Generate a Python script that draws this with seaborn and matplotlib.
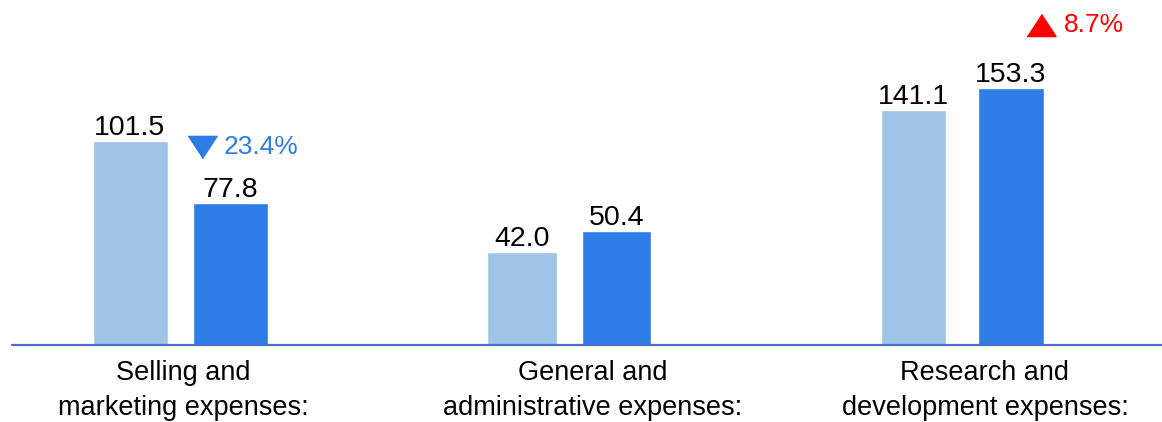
import numpy as np
import pandas as pd
import seaborn as sns
import matplotlib.pyplot as plt
import matplotlib.transforms as mtransforms

# data (RMB, per expense line: prior period vs current period)
categories = ['Selling and\nmarketing expenses:',
              'General and\nadministrative expenses:',
              'Research and\ndevelopment expenses:']
prior_vals = [101.5, 42.0, 141.1]
current_vals = [77.8, 50.4, 153.3]
change_labels = ['23.4%', None, '8.7%']
change_up = [False, None, True]
periods = ['Prior period', 'Current period']

light = '#A0C4E6'
dark = '#2E7DE6'
line_col = '#4472C4'

sns.set_style('white')
plt.rcParams['font.family'] = ['Liberation Sans', 'DejaVu Sans']

W, H = 1162, 422
fig = plt.figure(figsize=(W / 100, H / 100), dpi=100)

base_px = 345
# per group panel: left px, right px, bar width, ylim
panels = [
    (80, 280, 0.75, (22.8, 156.2)),
    (474.75, 663.75, 0.735, (4.7, 142.7)),
    (864.75, 1059.75, 0.67, (10.8, 202.1)),
]
label_x = [183, 593, 985]

for i, cat in enumerate(categories):
    left, right, bw, ylim = panels[i]
    ax = fig.add_axes([left / W, (H - base_px) / H, (right - left) / W, base_px / H])
    df = pd.DataFrame({'period': periods, 'value': [prior_vals[i], current_vals[i]]})
    sns.barplot(data=df, x='period', y='value', hue='period', palette=[light, dark],
                width=bw, ax=ax, legend=False, saturation=1)
    ax.set_ylim(*ylim)
    ax.set_xlim(-0.5, 1.5)
    ax.axis('off')
    for c in ax.containers:
        ax.bar_label(c, fmt='%.1f', padding=0, fontsize=20.5, color='black')

    # change marker next to current bar
    if change_labels[i] is not None:
        if change_up[i]:
            col = '#FF0000'
            mdx, mdy = 29.5, 63.5
            tdx, tdy = 53, 63.5
            verts = [(-1, -0.76), (1, -0.76), (0, 0.76)]
        else:
            col = dark
            mdx, mdy = -28.5, 56
            tdx, tdy = -6, 56
            verts = [(-1, 0.76), (1, 0.76), (0, -0.76)]
        tr = mtransforms.offset_copy(ax.transData, fig=fig, x=mdx, y=mdy, units='dots')
        ax.plot([1], [current_vals[i]], marker=verts, markersize=21, color=col,
                transform=tr, clip_on=False, linestyle='none')
        ax.annotate(change_labels[i], xy=(1, current_vals[i]), xytext=(tdx, tdy),
                    textcoords='offset pixels', ha='left', va='center',
                    fontsize=19, color=col, annotation_clip=False)

    fig.text(label_x[i] / W, 1 - 360 / H, cat, ha='center', va='top',
             fontsize=19.5, linespacing=1.45, color='black')

# baseline across the chart
fig.add_artist(plt.Line2D([12 / W, 1.0], [1 - base_px / H] * 2, color=line_col,
                          linewidth=1.6, transform=fig.transFigure))

fig.savefig('out.png', dpi=100)
